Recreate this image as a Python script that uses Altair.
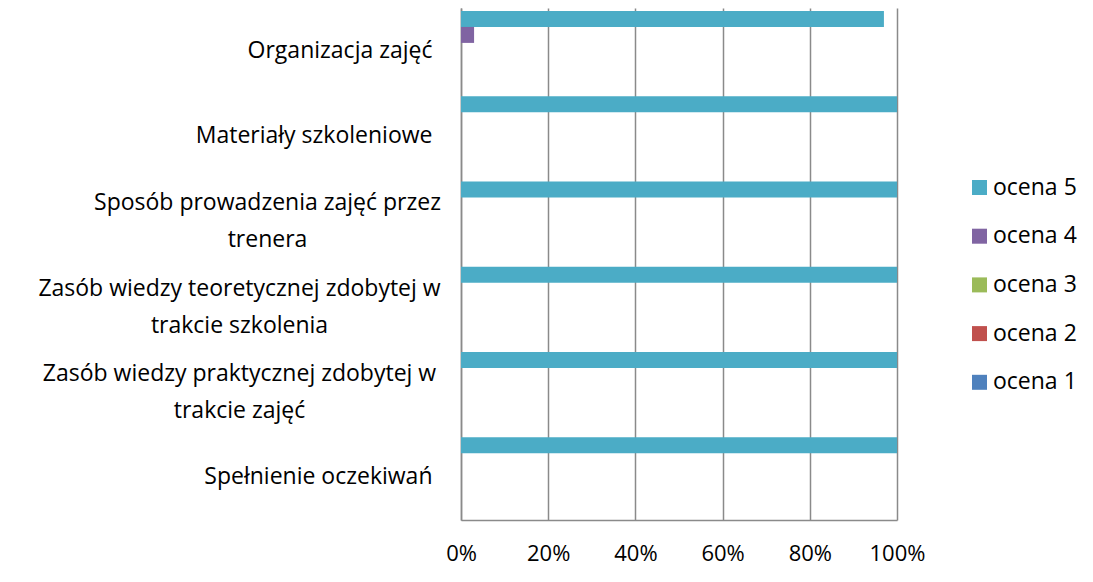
import altair as alt
import pandas as pd

categories = [
    "Organizacja zajęć",
    "Materiały szkoleniowe",
    "Sposób prowadzenia zajęć przez\ntrenera",
    "Zasób wiedzy teoretycznej zdobytej w\ntrakcie szkolenia",
    "Zasób wiedzy praktycznej zdobytej w\ntrakcie zajęć",
    "Spełnienie oczekiwań",
]
series = ["ocena 5", "ocena 4", "ocena 3", "ocena 2", "ocena 1"]
colors = ["#4BACC6", "#8064A2", "#9BBB59", "#C0504D", "#4F81BD"]

ocena5 = [97, 100, 100, 100, 100, 100]
ocena4 = [3, 0, 0, 0, 0, 0]
ocena3 = [0, 0, 0, 0, 0, 0]
ocena2 = [0, 0, 0, 0, 0, 0]
ocena1 = [0, 0, 0, 0, 0, 0]
values = [ocena5, ocena4, ocena3, ocena2, ocena1]

x_ticks = [0, 20, 40, 60, 80, 100]

rows = []
for s, vals in zip(series, values):
    for c, v in zip(categories, vals):
        rows.append({"kategoria": c, "seria": s, "wartosc": v})
df = pd.DataFrame(rows)

GRID = "#8a8a8a"
FONT = "Open Sans"

multi_test = "indexof(datum.value, '\\n') >= 0"
sposob_test = "indexof(datum.value, 'Sposób') == 0"

chart = (
    alt.Chart(df)
    .mark_bar()
    .encode(
        y=alt.Y(
            "kategoria:N",
            sort=categories,
            scale=alt.Scale(paddingInner=0.064, paddingOuter=0.035),
            axis=alt.Axis(
                title=None,
                ticks=False,
                domain=True,
                domainColor=GRID,
                domainWidth=1.5,
                grid=False,
                labelFont=FONT,
                labelFontSize=23,
                labelColor="#000000",
                labelLimit=1000,
                labelLineHeight=37,
                labelExpr="split(datum.label, '\\n')",
                labelAlign={"condition": {"test": multi_test, "value": "center"}, "value": "right"},
                labelPadding={
                    "condition": [
                        {"test": sposob_test, "value": 194},
                        {"test": multi_test, "value": 222},
                    ],
                    "value": 29,
                },
                labelOffset={"condition": {"test": multi_test, "value": -18}, "value": 0},
                minExtent=453,
                maxExtent=453,
            ),
        ),
        yOffset=alt.YOffset("seria:N", sort=series),
        x=alt.X(
            "wartosc:Q",
            scale=alt.Scale(domain=[0, 100], nice=False),
            axis=alt.Axis(
                title=None,
                values=x_ticks,
                labelExpr="datum.value + '%'",
                ticks=False,
                grid=True,
                gridColor=GRID,
                gridWidth=1.5,
                domain=True,
                domainColor=GRID,
                domainWidth=1.5,
                labelFont=FONT,
                labelFontSize=22,
                labelColor="#000000",
                labelPadding=23,
                labelFlush=False,
            ),
        ),
        color=alt.Color(
            "seria:N",
            sort=series,
            scale=alt.Scale(domain=series, range=colors),
            legend=alt.Legend(
                title=None,
                orient="none",
                legendX=507,
                legendY=168,
                symbolType="square",
                symbolSize=225,
                symbolStrokeWidth=0,
                labelFont=FONT,
                labelFontSize=23,
                labelColor="#000000",
                labelOffset=2,
                rowPadding=24.7,
            ),
        ),
    )
    .properties(width=436, height=512, padding={"left": 0, "top": 0, "right": 5, "bottom": 5})
    .configure_view(stroke=None)
)

chart.save("out.html", embed_options={"renderer": "svg", "actions": False})
